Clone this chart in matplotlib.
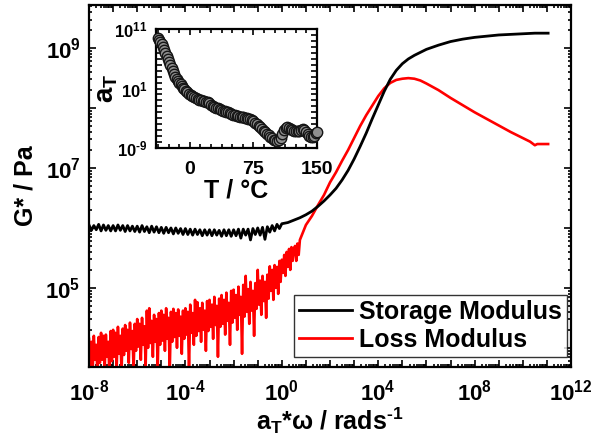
import numpy as np
import matplotlib
matplotlib.use("Agg")
import matplotlib.pyplot as plt
from matplotlib.ticker import LogLocator, FuncFormatter, NullFormatter, FixedLocator, MultipleLocator

plt.rcParams['font.family'] = ['Liberation Sans', 'DejaVu Sans']
plt.rcParams['font.weight'] = 'bold'
plt.rcParams['mathtext.fontset'] = 'custom'
plt.rcParams['mathtext.rm'] = 'Liberation Sans:bold'
plt.rcParams['mathtext.it'] = 'Liberation Sans:bold'
plt.rcParams['mathtext.bf'] = 'Liberation Sans:bold'
plt.rcParams['mathtext.default'] = 'rm'
plt.rcParams['axes.unicode_minus'] = False

HY = '\u2010'  # short hyphen used as minus sign in the reference

# ---------------- data (log10 values) ----------------
# Storage modulus, noisy low-frequency part (log10 aT*w from -8.0 to 0.0, step 0.1)
storage_noisy_logw = np.round(np.arange(-8.0, 0.001, 0.1), 2)
storage_noisy_logG = [
    6.05, 5.96, 6.04, 5.97, 6.06, 5.95, 6.05, 5.96, 6.04, 5.95,
    6.04, 5.95, 6.05, 5.96, 6.04, 5.94, 6.04, 5.95, 6.03, 5.94,
    6.03, 5.93, 6.04, 5.94, 6.02, 5.92, 6.03, 5.93, 6.02, 5.92,
    6.01, 5.91, 6.01, 5.92, 6.00, 5.90, 6.00, 5.91, 5.99, 5.89,
    5.99, 5.89, 5.98, 5.88, 5.98, 5.89, 5.97, 5.87, 5.97, 5.88,
    5.97, 5.87, 5.97, 5.88, 5.96, 5.86, 5.97, 5.87, 5.97, 5.86,
    5.97, 5.87, 5.98, 5.83, 5.98, 5.88, 5.98, 5.80, 5.99, 5.89,
    6.00, 5.88, 6.01, 5.81, 6.02, 5.93, 6.04, 5.95, 6.06, 5.99,
    6.07]
storage_smooth_logw = [0.25, 0.5, 0.75, 1.0, 1.25, 1.5, 1.75, 2.0, 2.25, 2.5, 2.75,
                       3.0, 3.25, 3.5, 3.75, 4.0, 4.25, 4.5, 4.75, 5.0, 5.25, 5.5,
                       5.75, 6.0, 6.5, 7.0, 7.5, 8.0, 8.5, 9.0, 9.5, 10.0, 10.5, 11.05]
storage_smooth_logG = [6.09, 6.13, 6.17, 6.22, 6.28, 6.36, 6.45, 6.55, 6.66, 6.80, 6.96,
                       7.15, 7.36, 7.58, 7.82, 8.05, 8.28, 8.48, 8.63, 8.74, 8.82, 8.88,
                       8.93, 8.98, 9.05, 9.11, 9.15, 9.18, 9.20, 9.22, 9.23, 9.24, 9.25, 9.25]

# Loss modulus, noisy low-frequency part (log10 aT*w from -8.00 to 0.50, step 0.05)
loss_noisy_logw = np.round(np.arange(-8.0, 0.5001, 0.05), 2)
loss_noisy_logG = [
    4.15, 3.70, 4.10, 3.60, 4.20, 3.80, 4.05, 3.55, 4.18, 3.75,
    4.25, 3.80, 4.20, 3.65, 4.22, 3.85, 4.10, 3.50, 4.28, 3.78,
    4.30, 3.85, 4.25, 3.70, 4.35, 3.90, 4.20, 3.60, 4.32, 3.88,
    4.38, 3.95, 4.30, 3.75, 4.42, 3.98, 4.28, 3.62, 4.40, 3.95,
    4.48, 4.02, 4.40, 3.80, 4.50, 4.05, 4.36, 3.70, 4.62, 4.00,
    4.66, 4.08, 4.45, 3.85, 4.55, 4.10, 4.48, 3.65, 4.58, 4.05,
    4.62, 4.12, 4.55, 3.95, 4.66, 4.15, 4.50, 3.60, 4.60, 4.10,
    4.65, 4.18, 4.58, 4.00, 4.64, 4.20, 4.52, 3.90, 4.62, 4.15,
    4.66, 4.22, 4.60, 3.60, 4.72, 4.25, 4.58, 4.05, 4.80, 4.20,
    4.76, 4.28, 4.66, 4.10, 4.75, 4.30, 4.62, 3.95, 4.78, 4.28,
    4.80, 4.35, 4.72, 4.15, 4.85, 4.38, 4.70, 3.85, 4.82, 4.35,
    4.88, 4.40, 4.80, 4.22, 4.92, 4.45, 4.75, 4.05, 4.95, 4.42,
    4.97, 4.50, 4.88, 4.30, 5.02, 4.55, 4.85, 3.90, 5.05, 4.52,
    5.20, 4.60, 4.98, 4.40, 5.10, 4.62, 4.95, 4.20, 5.08, 4.65,
    5.30, 4.72, 5.12, 4.55, 5.20, 4.78, 5.10, 4.50, 5.22, 4.82,
    5.36, 4.95, 5.30, 4.80, 5.38, 5.00, 5.35, 4.90, 5.45, 5.10,
    5.47, 5.25, 5.55, 5.20, 5.60, 5.35, 5.65, 5.30, 5.68, 5.45,
    5.65]
loss_smooth_logw = [0.55, 0.6, 0.65, 0.7, 0.75, 0.8, 0.9, 1.0, 1.25, 1.5, 1.75, 2.0,
                    2.25, 2.5, 2.75, 3.0, 3.25, 3.5, 3.75, 4.0, 4.25, 4.5, 4.75, 5.0,
                    5.25, 5.5, 5.75, 6.0, 6.5, 7.0, 7.5, 8.0, 8.5, 9.0, 9.5, 10.0,
                    10.3, 10.5, 10.6, 11.05]
loss_smooth_logG = [5.70, 5.45, 5.74, 5.55, 5.80, 5.85, 5.95, 6.05, 6.20, 6.38, 6.55, 6.76,
                    6.93, 7.12, 7.30, 7.50, 7.70, 7.88, 8.04, 8.20, 8.33, 8.42, 8.47, 8.49,
                    8.50, 8.49, 8.46, 8.41, 8.30, 8.17, 8.05, 7.93, 7.82, 7.71, 7.60, 7.50,
                    7.44, 7.38, 7.40, 7.40]

# Shift factor a_T vs temperature (inset)
shift_T = [
    -38, -36.5, -35, -33.5, -32, -30.5, -29, -27.5, -26, -24.5,
    -23, -21.5, -20, -18.5, -17, -15.5, -14, -12.5, -11, -9.5,
    -8, -6.5, -5, -3, -1, 1, 3, 5, 7, 9,
    11, 13, 15, 17, 19, 21, 23, 25, 27, 29,
    31, 33, 35, 37, 39, 41, 43, 45, 47, 49,
    51, 53, 55, 57, 59, 61, 63, 65, 67, 69,
    71, 73, 75, 77, 79, 81, 83, 85, 87, 89,
    91, 93, 95, 97, 99, 101, 103, 105, 107, 109,
    111, 113, 115, 117, 119, 121, 123, 125, 127, 129,
    131, 133, 135, 137, 139, 141, 143, 145, 147, 149,
    150]
shift_log_aT = [
    9.5, 9.2, 8.9, 8.45, 8.0, 7.5, 7.0, 6.45, 5.9, 5.4,
    4.9, 4.4, 3.9, 3.45, 3.0, 2.65, 2.3, 2.0, 1.7, 1.4,
    1.1, 0.85, 0.6, 0.35, 0.1, -0.1, -0.3, -0.5, -0.65, -0.8,
    -0.9, -1.0, -1.07, -1.13, -1.2, -1.33, -1.5, -1.7, -1.9, -2.07,
    -2.2, -2.33, -2.47, -2.6, -2.7, -2.8, -2.9, -3.03, -3.17, -3.3,
    -3.4, -3.5, -3.6, -3.67, -3.73, -3.8, -3.83, -3.9, -4.0, -4.07,
    -4.13, -4.3, -4.5, -4.75, -5.0, -5.27, -5.53, -5.8, -6.07, -6.33,
    -6.6, -6.87, -7.13, -7.4, -7.6, -7.72, -7.8, -7.7, -7.3, -6.6,
    -6.0, -5.7, -5.5, -5.6, -5.8, -6.0, -6.07, -6.13, -6.2, -6.1,
    -5.95, -5.85, -6.0, -6.3, -6.6, -6.9, -7.1, -7.2, -6.9, -6.5,
    -6.3]

legend_labels = ["Storage Modulus", "Loss Modulus"]
x_label_exps = [-8, -4, 0, 4, 8, 12]
y_label_exps = [5, 7, 9]
inset_y_label_exps = [-9, 1, 11]

# ---------------- figure ----------------
fig = plt.figure(figsize=(5.95, 4.43), dpi=100)
ax = fig.add_axes([0.1496, 0.1716, 0.8101, 0.8171])

w_storage = 10.0 ** np.concatenate([storage_noisy_logw, storage_smooth_logw])
G_storage = 10.0 ** np.concatenate([storage_noisy_logG, storage_smooth_logG])
w_loss = 10.0 ** np.concatenate([loss_noisy_logw, loss_smooth_logw])
G_loss = 10.0 ** np.concatenate([loss_noisy_logG, loss_smooth_logG])

ax.plot(w_storage, G_storage, color='black', lw=2.0, label=legend_labels[0], zorder=3)
ax.plot(w_loss, G_loss, color='#ff0000', lw=1.9, label=legend_labels[1], zorder=2)

ax.set_xscale('log')
ax.set_yscale('log')
ax.set_xlim(1e-8, 1e12)
ax.set_ylim(10 ** 3.68, 10 ** 9.72)


def make_fmt(exps):
    def f(v, pos):
        e = int(round(np.log10(v)))
        if e in exps and abs(np.log10(v) - e) < 1e-6:
            s = str(e).replace('-', HY)
            return r'$\mathdefault{10^{%s}}$' % s
        return ''
    return FuncFormatter(f)


ax.xaxis.set_major_locator(LogLocator(base=10, numticks=40))
ax.xaxis.set_minor_locator(LogLocator(base=10, subs=np.arange(2, 10), numticks=40))
ax.xaxis.set_major_formatter(make_fmt(x_label_exps))
ax.xaxis.set_minor_formatter(NullFormatter())
ax.yaxis.set_major_locator(LogLocator(base=10, numticks=40))
ax.yaxis.set_minor_locator(LogLocator(base=10, subs=np.arange(2, 10), numticks=40))
ax.yaxis.set_major_formatter(make_fmt(y_label_exps))
ax.yaxis.set_minor_formatter(NullFormatter())

for s in ax.spines.values():
    s.set_linewidth(1.6)
ax.tick_params(which='both', direction='in', top=True, right=True, width=1.2)
ax.tick_params(which='major', length=5)
ax.tick_params(which='minor', length=2.5)
ax.tick_params(axis='x', which='major', labelsize=16, pad=9)
ax.tick_params(axis='y', which='major', labelsize=16, pad=6)

ax.set_xlabel(r'a$_{\mathdefault{T}}$*ω / rads$^{\mathdefault{%s1}}$' % HY, fontsize=18,
              fontweight='bold', labelpad=0)
ax.set_ylabel('G* / Pa', fontsize=18, fontweight='bold', labelpad=6)

leg = ax.legend(loc='lower right', bbox_to_anchor=(0.992, 0.028), borderaxespad=0,
                frameon=True, fancybox=False, edgecolor='black',
                handlelength=2.1, handletextpad=0.3, labelspacing=0.15,
                borderpad=0.2, prop={'weight': 'bold', 'size': 18})
leg.get_frame().set_linewidth(1.0)
for line in leg.get_lines():
    line.set_linewidth(2.0)

# ---------------- inset ----------------
ins = fig.add_axes([0.2622, 0.6659, 0.2706, 0.2686])
ins.plot(shift_T, 10.0 ** np.array(shift_log_aT), 'o', ms=7.5, mfc='#8f8f8f', mec='#151515',
         mew=1.0, clip_on=False, zorder=3)
ins.set_yscale('log')
ins.set_xlim(-40, 150)
ins.set_ylim(1e-9, 1e11)
ins.xaxis.set_major_locator(FixedLocator([0, 75, 150]))
ins.xaxis.set_minor_locator(MultipleLocator(12.5))
ins.yaxis.set_major_locator(LogLocator(base=10, numticks=40))
ins.yaxis.set_major_formatter(make_fmt(inset_y_label_exps))
ins.yaxis.set_minor_formatter(NullFormatter())
for s in ins.spines.values():
    s.set_linewidth(1.6)
ins.tick_params(which='both', direction='in', top=True, right=True, width=1.2)
ins.tick_params(which='major', length=4)
ins.tick_params(which='minor', length=3)
ins.tick_params(axis='x', labelsize=14, pad=9)
ins.tick_params(axis='y', labelsize=12, pad=6)
ins.set_xlabel('T / °C', fontsize=18, fontweight='bold', labelpad=1)
ins.set_ylabel(r'a$_{\mathdefault{T}}$', fontsize=20, fontweight='bold', labelpad=-4)

fig.savefig('out.png', dpi=100)
